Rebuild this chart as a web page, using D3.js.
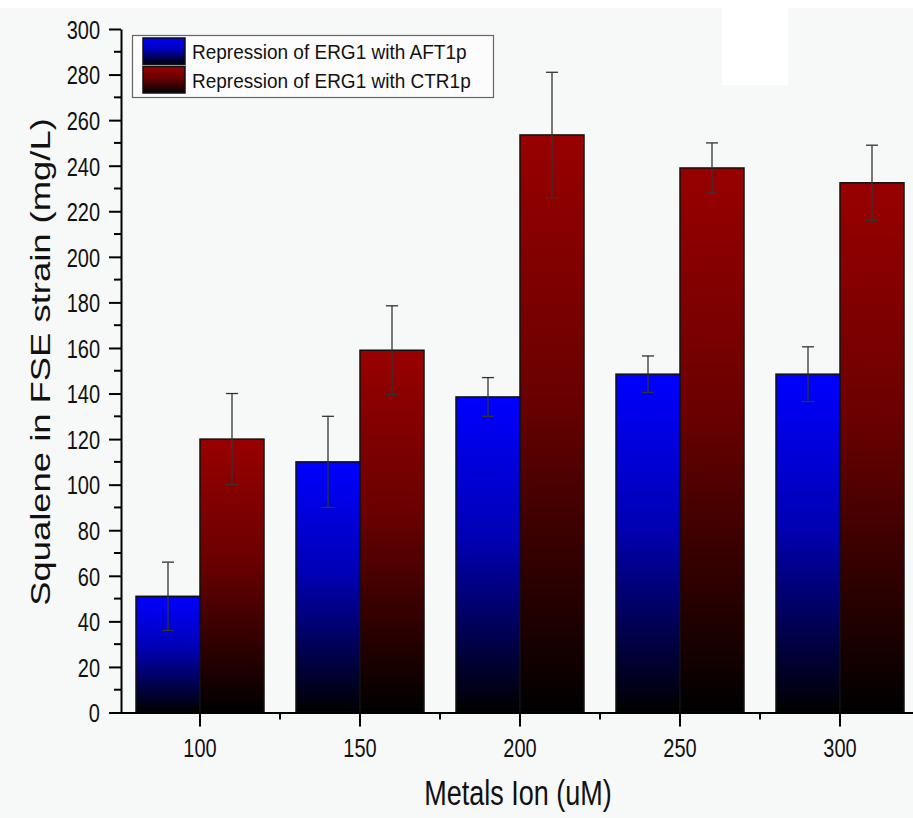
<!DOCTYPE html>
<html>
<head>
<meta charset="utf-8">
<script src="https://cdn.jsdelivr.net/npm/d3@7"></script>
<style>
  body { margin: 0; background: #f7f8f8; }
  svg { display: block; font-family: Arial, 'Liberation Sans', sans-serif; }
</style>
</head>
<body>
<script>
const categories = ['100', '150', '200', '250', '300']
const seriesNames = ['Repression of ERG1 with AFT1p', 'Repression of ERG1 with CTR1p']
const aft1Values = [51, 110, 138.5, 148.5, 148.5]
const aft1Errors = [15, 20, 8.5, 8, 12]
const ctr1Values = [120, 159, 253.5, 239, 232.5]
const ctr1Errors = [20, 19.5, 27.5, 11, 16.5]
const yTicks = [0, 20, 40, 60, 80, 100, 120, 140, 160, 180, 200, 220, 240, 260, 280, 300]

const width = 913
const height = 818
const stretch = 1.3 // the source picture is stretched vertically

const data = categories.map((c, i) => ({
  cat: c,
  bars: [
    { key: 'aft1', value: aft1Values[i], err: aft1Errors[i] },
    { key: 'ctr1', value: ctr1Values[i], err: ctr1Errors[i] }
  ]
}))

const svg = d3.select('body')
  .append('svg')
  .attr('width', width)
  .attr('height', height)

// background
svg.append('rect')
  .attr('width', width).attr('height', height)
  .style('fill', '#f7f8f8')
svg.append('rect')
  .attr('width', width).attr('height', 8)
  .style('fill', '#ffffff')
svg.append('rect')
  .attr('x', 722).attr('y', 8).attr('width', 66).attr('height', 77)
  .style('fill', '#ffffff')

// gradients
const defs = svg.append('defs')
const gradients = [
  { id: 'grad-aft1', stops: [[0, '#0000ff'], [0.45, '#0000b4'], [1, '#000000']] },
  { id: 'grad-ctr1', stops: [[0, '#990000'], [0.45, '#6a0000'], [1, '#000000']] }
]
gradients.forEach(g => {
  const lg = defs.append('linearGradient')
    .attr('id', g.id)
    .attr('x1', 0).attr('y1', 0).attr('x2', 0).attr('y2', 1)
  g.stops.forEach(s => {
    lg.append('stop').attr('offset', s[0]).attr('stop-color', s[1])
  })
})

const xScale = d3.scaleBand()
  .domain(categories)
  .range([120, 920])
  .paddingInner(0)
  .paddingOuter(0)

const xSub = d3.scaleBand()
  .domain(['aft1', 'ctr1'])
  .range([0, xScale.bandwidth()])
  .paddingInner(0)
  .paddingOuter(0.25)

const yScale = d3.scaleLinear()
  .domain([0, 300])
  .range([712.5, 29])

// bars
const groups = svg.selectAll('.group')
  .data(data)
  .enter()
  .append('g')
  .attr('class', 'group')
  .attr('transform', d => `translate(${xScale(d.cat)},0)`)

groups.selectAll('.bar')
  .data(d => d.bars)
  .enter()
  .append('rect')
  .attr('class', 'bar')
  .attr('x', d => xSub(d.key))
  .attr('y', d => yScale(d.value))
  .attr('width', xSub.bandwidth())
  .attr('height', d => yScale(0) - yScale(d.value))
  .style('fill', d => `url(#grad-${d.key})`)
  .style('stroke', '#111')
  .style('stroke-width', 1.5)

// error bars
const errG = groups.selectAll('.err')
  .data(d => d.bars)
  .enter()
  .append('g')
  .attr('class', 'err')
  .style('stroke', '#333')
  .style('stroke-width', 1.3)

const cap = 6
errG.append('line')
  .attr('x1', d => xSub(d.key) + xSub.bandwidth() / 2)
  .attr('x2', d => xSub(d.key) + xSub.bandwidth() / 2)
  .attr('y1', d => yScale(d.value + d.err))
  .attr('y2', d => yScale(d.value - d.err))
errG.selectAll('.cap')
  .data(d => [d.value + d.err, d.value - d.err].map(v => ({ v, key: d.key })))
  .enter()
  .append('line')
  .attr('x1', d => xSub(d.key) + xSub.bandwidth() / 2 - cap)
  .attr('x2', d => xSub(d.key) + xSub.bandwidth() / 2 + cap)
  .attr('y1', d => yScale(d.v))
  .attr('y2', d => yScale(d.v))

// y axis
const yAxisG = svg.append('g')
  .attr('class', 'y axis')
  .attr('transform', 'translate(121,0)')
  .call(d3.axisLeft(yScale).tickValues(yTicks).tickSize(12).tickSizeOuter(0))
yAxisG.select('.domain').style('stroke', '#000').style('stroke-width', 2)
yAxisG.selectAll('.tick line').style('stroke', '#000').style('stroke-width', 2)
yAxisG.selectAll('.tick text')
  .attr('x', 0).attr('y', 0).attr('dy', null)
  .attr('transform', 'translate(-21,9.3) scale(1,' + stretch + ')')
  .style('font-size', '20px')
  .style('fill', '#111')

// minor y ticks
svg.append('g')
  .selectAll('line')
  .data(yTicks.slice(0, -1).map(v => v + 10))
  .enter()
  .append('line')
  .attr('x1', 114).attr('x2', 121)
  .attr('y1', d => yScale(d)).attr('y2', d => yScale(d))
  .style('stroke', '#000').style('stroke-width', 2)

// x axis
const xAxisG = svg.append('g')
  .attr('class', 'x axis')
  .attr('transform', `translate(0,${yScale(0)})`)
  .call(d3.axisBottom(xScale).tickSize(14).tickSizeOuter(0))
xAxisG.select('.domain').style('stroke', '#000').style('stroke-width', 2)
xAxisG.selectAll('.tick line').style('stroke', '#000').style('stroke-width', 2)
xAxisG.selectAll('.tick text')
  .attr('y', 0).attr('dy', null)
  .attr('transform', 'translate(0,44.5) scale(1,' + stretch + ')')
  .style('font-size', '20px')
  .style('fill', '#111')

// minor x ticks at band edges
xAxisG.append('g')
  .selectAll('line')
  .data(categories.slice(1))
  .enter()
  .append('line')
  .attr('x1', d => xScale(d)).attr('x2', d => xScale(d))
  .attr('y1', 0).attr('y2', 7)
  .style('stroke', '#000').style('stroke-width', 2)

// axis titles
svg.append('text')
  .attr('transform', `translate(518,805) scale(1,${stretch})`)
  .style('text-anchor', 'middle')
  .style('font-size', '27px')
  .style('fill', '#111')
  .text('Metals Ion (uM)')

svg.append('text')
  .attr('transform', `translate(50,362) rotate(-90) scale(${stretch},1)`)
  .style('text-anchor', 'middle')
  .style('font-size', '28px')
  .style('fill', '#111')
  .text('Squalene in FSE strain (mg/L)')

// legend
const legend = svg.append('g').attr('class', 'legend')
legend.append('rect')
  .attr('x', 132.5).attr('y', 35.5)
  .attr('width', 361).attr('height', 62)
  .style('fill', '#fcfcfc')
  .style('stroke', '#666')
  .style('stroke-width', 1.2)

const legendItems = legend.selectAll('.item')
  .data(['aft1', 'ctr1'])
  .enter()
  .append('g')
  .attr('class', 'item')
  .attr('transform', (d, i) => `translate(143,${38 + i * 28.5})`)

legendItems.append('rect')
  .attr('width', 42).attr('height', 26.5)
  .style('fill', d => `url(#grad-${d})`)
  .style('stroke', '#111')
  .style('stroke-width', 1.5)

legendItems.append('text')
  .attr('transform', `translate(49,21) scale(1,1.1)`)
  .style('font-size', '19px')
  .style('fill', '#111')
  .text((d, i) => seriesNames[i])
</script>
</body>
</html>
